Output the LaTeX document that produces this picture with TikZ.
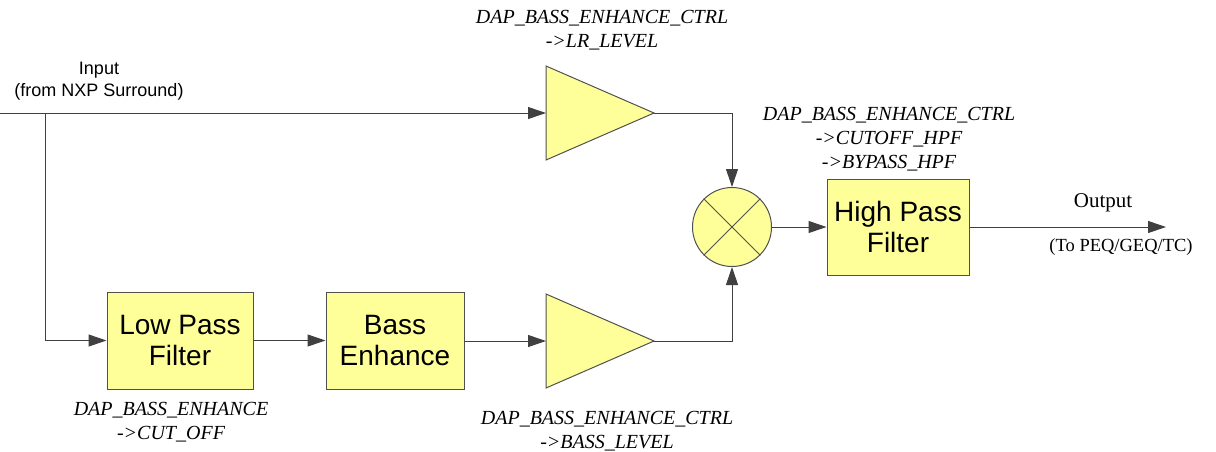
\documentclass[tikz,border=0pt]{standalone}
\usepackage{fontspec}
\setmainfont{Liberation Serif}
\setsansfont{Liberation Sans}
\usetikzlibrary{arrows.meta}
\definecolor{BlockFill}{HTML}{FFFF99}
\definecolor{BlockEdge}{HTML}{505050}
\definecolor{WireInk}{HTML}{404040}

\begin{document}
\begin{tikzpicture}[
    x=1pt, y=-1pt,
    block/.style={
        draw=BlockEdge,
        fill=BlockFill,
        line width=1pt,
        align=center,
        inner sep=0pt,
        font=\sffamily\fontsize{28}{31}\selectfont
    },
    amp/.style={draw=BlockEdge, fill=BlockFill, line width=1pt},
    sig/.style={-{Triangle[length=18pt,width=12pt]},
                draw=WireInk, line width=1pt},
    reg label/.style={align=center,
                      font=\itshape\fontsize{20}{24}\selectfont},
    io label/.style={align=center}
]
    \useasboundingbox (0,0) rectangle (1216,451);

    \coordinate (in) at (0,113);
    \coordinate (split) at (45,113);
    \coordinate (out) at (1166,227);

    % amplifiers: base at (in), apex at (out)
    \coordinate (lramp in) at (546,113);
    \coordinate (lramp out) at (654,113);
    \coordinate (bassamp in) at (546,341);
    \coordinate (bassamp out) at (654,341);
    \draw[amp] (lramp in) ++(0,-47) -- (lramp out) -- ++(-108,47) -- cycle;
    \draw[amp] (bassamp in) ++(0,-47) -- (bassamp out) -- ++(-108,47) -- cycle;

    \node[block, minimum width=146pt, minimum height=97pt] (lpf)
        at (180,340.5) {Low Pass\\Filter};
    \node[block, minimum width=138pt, minimum height=97pt] (bass)
        at (395,340.5) {Bass\\Enhance};
    \node[block, minimum width=142pt, minimum height=96pt] (hpf)
        at (898,227) {High Pass\\Filter};

    \node[circle, draw=BlockEdge, fill=BlockFill, line width=1pt,
          minimum size=79pt, inner sep=0pt] (mul) at (732,227) {};
    \draw[draw=BlockEdge, line width=1pt]
        (mul.north west) -- (mul.south east)
        (mul.north east) -- (mul.south west);

    \draw[sig] (in) -- (lramp in);
    \draw[sig] (split) |- (lpf.west);
    \draw[sig] (lpf) -- (bass);
    \draw[sig] (bass.east |- bassamp in) -- (bassamp in);
    \draw[sig] (lramp out) -| (mul);
    \draw[sig] (bassamp out) -| (mul);
    \draw[sig] (mul) -- (hpf);
    \draw[sig] (hpf) -- (out);

    \node[io label, font=\sffamily\fontsize{18}{22}\selectfont] (inlabel)
        at (99,81) {Input\\(from NXP Surround)};
    \node[reg label] (lrlabel) at (602,30)
        {DAP\_BASS\_ENHANCE\_CTRL\\->LR\_LEVEL};
    \node[reg label] (hpflabel) at (889,139)
        {DAP\_BASS\_ENHANCE\_CTRL\\->CUTOFF\_HPF\\->BYPASS\_HPF};
    \node[reg label] (lpflabel) at (171,422)
        {DAP\_BASS\_ENHANCE\\->CUT\_OFF};
    \node[reg label] (basslabel) at (607,431)
        {DAP\_BASS\_ENHANCE\_CTRL\\->BASS\_LEVEL};
    \node[io label, font=\fontsize{21}{24}\selectfont] (outlabel)
        at (1103,203) {Output};
    \node[io label, font=\fontsize{18.5}{22}\selectfont] (tolabel)
        at (1121,247) {(To PEQ/GEQ/TC)};
\end{tikzpicture}
\end{document}
